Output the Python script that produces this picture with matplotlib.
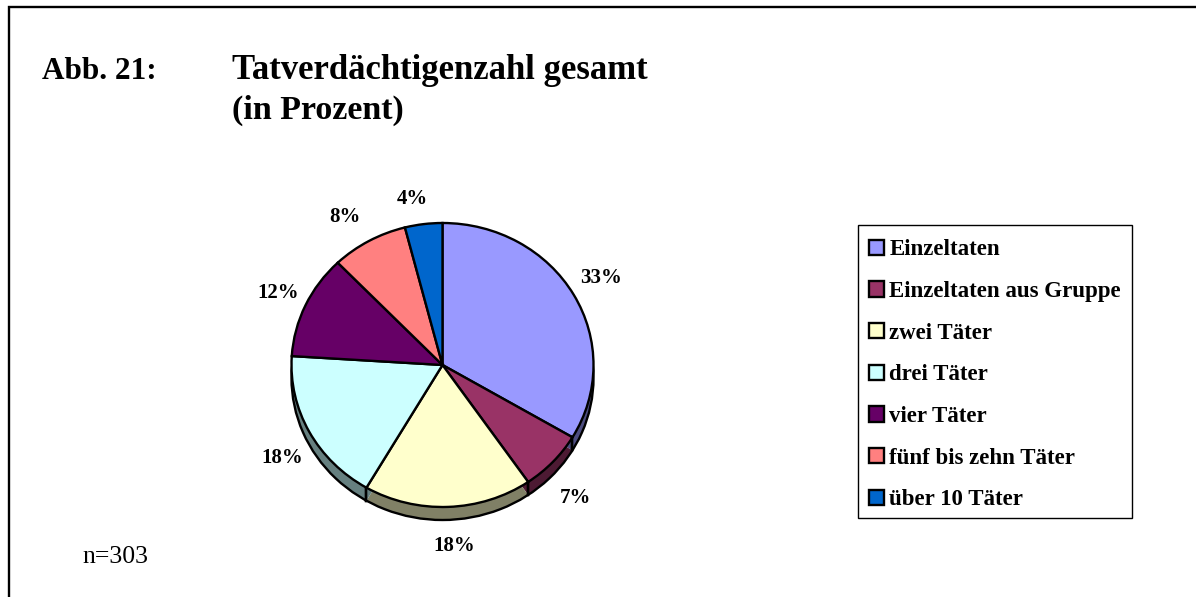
# -*- coding: utf-8 -*-
import numpy as np
import matplotlib
matplotlib.use("Agg")
import matplotlib.pyplot as plt
from matplotlib.patches import Rectangle

W, H = 1196, 597

categories = ["Einzeltaten", "Einzeltaten aus Gruppe", "zwei Täter", "drei Täter",
              "vier Täter", "fünf bis zehn Täter", "über 10 Täter"]
shares = [33.5, 6.9, 18.0, 17.6, 11.8, 8.2, 4.0]
share_labels = ["33%", "7%", "18%", "18%", "12%", "8%", "4%"]
colors = ["#9999FF", "#993366", "#FFFFCC", "#CCFFFF", "#660066", "#FF8080", "#0066CC"]
side_colors = ["#4D4D80", "#4D1A33", "#808066", "#668080", "#330033", "#804040", "#003366"]

plt.rcParams["font.family"] = ["Liberation Serif", "DejaVu Serif"]
plt.rcParams["font.weight"] = "bold"

fig = plt.figure(figsize=(W / 100, H / 100), dpi=100, facecolor="white")


def px(x, y):
    # Pixelposition (von oben links) nach Figure-Koordinaten
    return x / W, 1 - y / H


# Rahmen oben und links
frame = fig.add_axes([0, 0, 1, 1], facecolor="none")
frame.set_xlim(0, W)
frame.set_ylim(H, 0)
frame.axis("off")
frame.plot([9, 9, W], [H, 7, 7], color="black", lw=1.7, solid_joinstyle="miter")

# Kreis: Achse genau auf die Ellipse gelegt
left, top, rx, ry = 291.5, 223, 151, 142
ax = fig.add_axes([left / W, 1 - (top + 2 * ry) / H, 2 * rx / W, 2 * ry / H])
depth = 13 / ry

side, _ = ax.pie(shares, colors=side_colors, startangle=90, counterclock=False,
                 center=(0, -depth), wedgeprops=dict(linewidth=0, clip_on=False))
ax.pie([1], colors=["none"], center=(0, -depth),
       wedgeprops=dict(edgecolor="black", linewidth=1.7, clip_on=False))
wedges, _ = ax.pie(shares, colors=colors, startangle=90, counterclock=False,
                   wedgeprops=dict(edgecolor="black", linewidth=1.7, clip_on=False))
ax.set_aspect("auto")
ax.set_xlim(-1, 1)
ax.set_ylim(-1, 1)

# Senkrechte Kanten an der Unterseite
for w in wedges:
    for theta in (w.theta1, w.theta2):
        y0 = np.sin(np.deg2rad(theta))
        if y0 < 0:
            x0 = np.cos(np.deg2rad(theta))
            ax.plot([x0, x0], [y0, y0 - depth], color="black", lw=1.7, clip_on=False)

# Prozentwerte
label_xy = [(601, 278), (575, 498), (454, 546), (282, 458), (278, 293), (345, 217), (412, 199)]
for lab, (x, y) in zip(share_labels, label_xy):
    frame.text(x, y, lab, fontsize=15, ha="center", va="center", color="black")

# Titel
frame.text(42, 79, "Abb. 21:", fontsize=22.5, va="baseline", color="black")
frame.text(232, 79, "Tatverdächtigenzahl gesamt", fontsize=25, va="baseline", color="black")
frame.text(232, 119, "(in Prozent)", fontsize=24.5, va="baseline", color="black")
frame.text(82, 563, "n=303", fontsize=18.5, fontweight="normal", va="baseline", color="black")

# Legende: Kasten separat, damit die Zeilen frei sitzen
frame.add_patch(Rectangle((858, 225), 274, 293, facecolor="white", edgecolor="black", lw=1.0))
leg = fig.legend(wedges, categories, loc="upper left", bbox_to_anchor=px(858, 228),
                 bbox_transform=fig.transFigure, borderaxespad=0, frameon=False,
                 handlelength=0.65, handleheight=0.65, handletextpad=0.22, labelspacing=0.9,
                 borderpad=0.5, prop=dict(family=["Liberation Serif"], weight="bold", size=16.5))
for h in leg.legend_handles:
    h.set_linewidth(1.7)

fig.savefig("out.png", dpi=100, facecolor="white")
